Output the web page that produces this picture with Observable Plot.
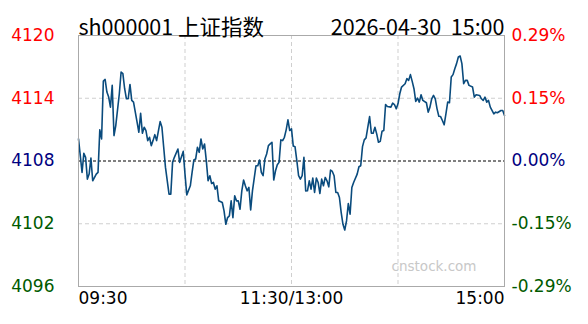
<!DOCTYPE html>
<html>
<head>
<meta charset="utf-8">
<script src="https://cdn.jsdelivr.net/npm/d3@7"></script>
<script src="https://cdn.jsdelivr.net/npm/@observablehq/plot@0.6"></script>
<style>
  html, body { margin: 0; padding: 0; background: #fff; }
  #chart svg { display: block; }
</style>
</head>
<body>
<div id="chart"></div>
<script>
// Title texts
const titleLeft = "sh000001 上证指数";
const titleRight = "2026-04-30\u00a0\u00a015:00";
const watermark = "cnstock.com";

// Minutes since 09:30 (trading minutes, lunch break removed)
const minutes = [0,2,3,4,5,6,7,8,10,11,12,13,14,15,16,17,18,19,20,21,23,24,25,26,27,28,29,30,31,33,34,35,36,37,38,39,40,41,42,43,44,46,47,48,49,51,52,53,54,56,57,59,60,
61,63,64,65,66,67,68,69,70,71,72,73,74,75,76,77,78,79,81,82,83,84,85,86,87,88,89,90,91,92,93,94,95,96,97,98,100,101,102,103,104,105,106,107,108,109,110,111,112,113,114,115,116,117,118,119,120,
121,122,123,124,125,126,127,128,129,130,131,132,133,134,135,136,137,138,139,140,141,142,143,144,145,146,147,148,149,150,151,152,153,154,155,157,158,159,160,161,162,163,164,165,166,167,168,169,170,171,172,173,174,176,177,178,179,
180,181,182,184,185,186,187,188,189,190,191,192,193,194,196,197,198,199,200,201,202,203,204,205,206,207,208,209,210,211,212,213,214,215,216,217,218,219,220,222,223,224,226,227,228,229,230,231,232,234,235,236,238,239,240];

// Index level at each minute
const prices = [4110.11,4106.91,4108.73,4108.35,4106.27,4106.75,4108.29,4106.11,4106.75,4106.91,4110.98,4110.11,4115.64,4115.80,4114.59,4114.11,4113.15,4115.23,4110.43,4111.39,4114.43,4116.51,4116.35,4114.91,4113.95,4113.95,4115.32,4113.79,4113.63,4111.71,4110.75,4112.57,4110.65,4111.23,4110.91,4109.95,4110.27,4109.47,4109.95,4110.52,4109.95,4111.77,4111.23,4109.31,4107.39,4104.83,4104.83,4107.87,4108.35,4109.15,4107.87,4108.92,4106.75,
4104.76,4105.63,4106.91,4108.10,4108.19,4109.31,4108.83,4110.11,4109.15,4109.63,4108.03,4106.11,4106.59,4105.85,4105.95,4105.31,4105.63,4104.19,4104.03,4103.23,4101.95,4102.59,4102.75,4104.19,4102.59,4104.67,4104.19,4104.19,4103.39,4105.15,4106.18,4105.63,4105.15,4105.47,4103.32,4105.15,4107.55,4107.55,4108.10,4106.91,4106.59,4108.19,4108.67,4109.47,4109.63,4109.79,4106.18,4107.07,4107.64,4107.87,4110.02,4109.95,4110.27,4110.98,4111.94,4110.91,4111.07,
4109.43,4109.36,4108.03,4106.59,4106.27,4106.59,4108.35,4105.13,4105.15,4106.11,4105.31,4106.37,4104.99,4106.37,4105.95,4104.89,4106.27,4105.63,4106.43,4106.11,4105.53,4107.14,4107.00,4106.59,4104.99,4104.99,4104.51,4103.07,4101.95,4101.40,4102.27,4103.93,4102.91,4105.47,4105.95,4106.75,4107.45,4107.55,4109.37,4110.02,4110.21,4111.23,4112.25,4110.65,4110.65,4111.23,4110.59,4109.79,4109.88,4110.84,4110.91,4113.40,4113.21,4113.15,4113.53,4113.40,4112.99,
4113.47,4114.43,4115.07,4115.39,4115.87,4115.71,4116.26,4115.61,4114.91,4113.69,4114.01,4113.63,4114.34,4113.79,4113.57,4112.67,4113.15,4113.95,4114.27,4113.95,4112.99,4112.28,4112.25,4111.87,4111.46,4112.51,4113.63,4113.57,4116.03,4116.26,4116.83,4117.31,4117.95,4118.04,4117.31,4115.39,4115.71,4115.71,4115.23,4115.07,4114.11,4114.34,4114.27,4113.95,4113.79,4114.11,4113.63,4113.79,4113.15,4112.51,4112.67,4112.61,4112.83,4112.83,4112.35];

// Axis ticks
const prevClose = 4108;
const priceTicks = [4096, 4102, 4108, 4114, 4120];
const pctLabels = ["-0.29%", "-0.15%", "0.00%", "0.15%", "0.29%"];
const gridMinutes = [60, 120, 180];
const timeTicks = [0, 120, 240];
const timeLabels = ["09:30", "11:30/13:00", "15:00"];

const data = minutes.map((m, i) => ({m, p: prices[i]}));
const tickColor = v => v > prevClose ? "#ff0000" : v < prevClose ? "#005a00" : "#000080";

const chart = Plot.plot({
  width: 588,
  height: 324,
  marginLeft: 78,
  marginRight: 84,
  marginTop: 35,
  marginBottom: 38,
  x: {domain: [0, 240], axis: null},
  y: {domain: [4096, 4120], axis: null},
  color: {type: "identity"},
  style: {fontFamily: "'DejaVu Sans', sans-serif", fontSize: "17px", background: "#fff"},
  marks: [
    Plot.ruleY(priceTicks.filter(v => v !== prevClose && v !== priceTicks[0] && v !== priceTicks[priceTicks.length - 1]), {stroke: "#cfcfcf", strokeDasharray: "4,3"}),
    Plot.ruleX(gridMinutes, {stroke: "#cfcfcf", strokeDasharray: "4,3"}),
    Plot.ruleY([prevClose], {stroke: "#000", strokeDasharray: "3,2"}),
    Plot.text([watermark], {frameAnchor: "bottom-right", dx: -28, dy: -16, textAnchor: "end", fill: "#c8c8c8", fontSize: 13.5}),
    Plot.line(data, {x: "m", y: "p", stroke: "#0a4b7d", strokeWidth: 1.6}),
    Plot.frame({stroke: "#aaa"}),
    // Left price labels
    Plot.text(priceTicks, {y: d => d, frameAnchor: "left", dx: -24, textAnchor: "end", text: d => String(d), fill: d => tickColor(d)}),
    // Right percent labels
    Plot.text(priceTicks, {y: d => d, frameAnchor: "right", dx: 7, textAnchor: "start", text: (d, i) => pctLabels[i], fill: d => tickColor(d)}),
    // Time labels
    Plot.text(timeTicks.slice(0, 1), {x: d => d, frameAnchor: "bottom", dy: 17, textAnchor: "start", text: (d, i) => timeLabels[0], fill: "#000"}),
    Plot.text(timeTicks.slice(1, 2), {x: d => d, frameAnchor: "bottom", dy: 17, textAnchor: "middle", text: (d, i) => timeLabels[1], fill: "#000"}),
    Plot.text(timeTicks.slice(2, 3), {x: d => d, frameAnchor: "bottom", dy: 17, textAnchor: "end", text: (d, i) => timeLabels[2], fill: "#000"}),
    // Title
    Plot.text([titleLeft], {frameAnchor: "top-left", dy: -16, textAnchor: "start", fontSize: 21.5, fontFamily: "'Noto Sans CJK SC', sans-serif", fill: "#000"}),
    Plot.text([titleRight], {frameAnchor: "top-right", dy: -16, textAnchor: "end", fontSize: 21.5, fontFamily: "'Noto Sans CJK SC', sans-serif", fill: "#000"})
  ]
});
document.getElementById("chart").appendChild(chart);
</script>
</body>
</html>
